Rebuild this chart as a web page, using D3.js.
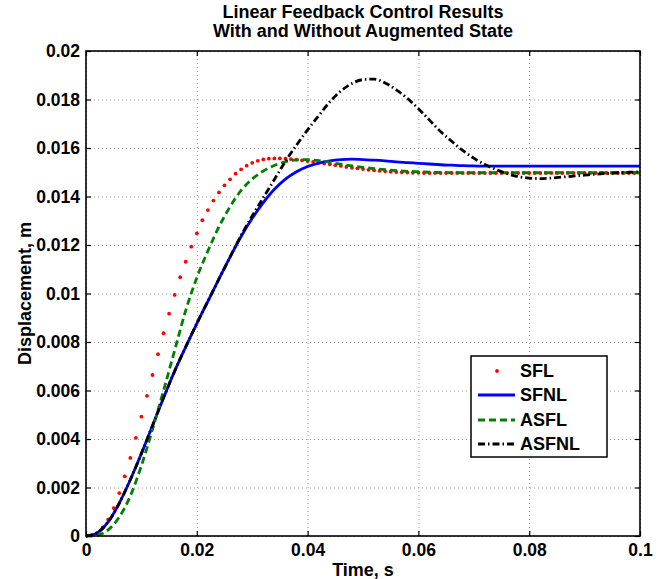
<!DOCTYPE html>
<html><head><meta charset="utf-8">
<script src="https://cdn.jsdelivr.net/npm/d3@7"></script>
<style>body{margin:0;background:#fff;} text{font-family:"Liberation Sans",Arial,Helvetica,sans-serif;font-weight:bold;fill:#000;}</style>
</head><body><svg id="c" width="670" height="579"></svg>
<script>
// ---- data ----
const xTicks = [0, 0.02, 0.04, 0.06, 0.08, 0.1];
const xTickLabels = ["0", "0.02", "0.04", "0.06", "0.08", "0.1"];
const yTicks = [0, 0.002, 0.004, 0.006, 0.008, 0.01, 0.012, 0.014, 0.016, 0.018, 0.02];
const yTickLabels = ["0", "0.002", "0.004", "0.006", "0.008", "0.01", "0.012", "0.014", "0.016", "0.018", "0.02"];
const seriesNames = ["SFL", "SFNL", "ASFL", "ASFNL"];

// SFL sampled every 1 ms (drawn as dots)
const timeSFL = [0,0.001,0.002,0.003,0.004,0.005,0.006,0.007,0.008,0.009,
 0.010,0.011,0.012,0.013,0.014,0.015,0.016,0.017,0.018,0.019,
 0.020,0.021,0.022,0.023,0.024,0.025,0.026,0.027,0.028,0.029,
 0.030,0.031,0.032,0.033,0.034,0.035,0.036,0.037,0.038,0.039,
 0.040,0.041,0.042,0.043,0.044,0.045,0.046,0.047,0.048,0.049,
 0.050,0.051,0.052,0.053,0.054,0.055,0.056,0.057,0.058,0.059,
 0.060,0.061,0.062,0.063,0.064,0.065,0.066,0.067,0.068,0.069,
 0.070,0.071,0.072,0.073,0.074,0.075,0.076,0.077,0.078,0.079,
 0.080,0.081,0.082,0.083,0.084,0.085,0.086,0.087,0.088,0.089,
 0.090,0.091,0.092,0.093,0.094,0.095,0.096,0.097,0.098,0.099,0.100];
const valSFL = [0,0.00002,0.00012,0.00035,0.00068,0.00115,0.00177,0.00246,0.00322,0.00405,
 0.00492,0.00578,0.00664,0.00750,0.00836,0.00917,0.00994,0.01067,0.01131,0.01193,
 0.01248,0.01302,0.01344,0.01383,0.01417,0.01446,0.01471,0.01494,0.01512,0.01527,
 0.01539,0.01547,0.01553,0.01556,0.01557,0.01557,0.01556,0.01554,0.01552,0.01549,
 0.01546,0.01543,0.01539,0.01536,0.01533,0.01529,0.01526,0.01522,0.01519,0.01516,
 0.01513,0.01510,0.01508,0.01506,0.01504,0.01502,0.01501,0.01500,0.01499,0.01498,
 0.01498,0.01497,0.01497,0.01497,0.01497,0.01497,0.01497,0.01497,0.01497,0.01497,
 0.01497,0.01497,0.01497,0.01497,0.01497,0.01497,0.01497,0.01497,0.01497,0.01497,
 0.01497,0.01497,0.01497,0.01497,0.01497,0.01497,0.01497,0.01497,0.01497,0.01497,
 0.01497,0.01497,0.01497,0.01497,0.01497,0.01497,0.01497,0.01497,0.01497,0.01497,0.01497];

// line series sampled every 2 ms
const timeLine = [0,0.002,0.004,0.006,0.008,0.010,0.012,0.014,0.016,0.018,
 0.020,0.022,0.024,0.026,0.028,0.030,0.032,0.034,0.036,0.038,
 0.040,0.042,0.044,0.046,0.048,0.050,0.052,0.054,0.056,0.058,
 0.060,0.062,0.064,0.066,0.068,0.070,0.072,0.074,0.076,0.078,
 0.080,0.082,0.084,0.086,0.088,0.090,0.092,0.094,0.096,0.098,0.100];
const valSFNL = [0,0.00013,0.00058,0.00135,0.00232,0.0034,0.00455,0.0057,0.0068,0.0078,
 0.00876,0.00968,0.0106,0.0115,0.01235,0.0131,0.01375,0.0143,0.01472,0.01502,
 0.01524,0.01538,0.01547,0.01552,0.01554,0.01552,0.0155,0.01547,0.01543,0.0154,
 0.01537,0.01534,0.01531,0.01529,0.01527,0.01526,0.01525,0.01525,0.01525,0.01525,
 0.01525,0.01525,0.01525,0.01525,0.01525,0.01525,0.01525,0.01525,0.01525,0.01525,0.01525];
const valASFL = [0,0.00003,0.00025,0.00078,0.00165,0.0029,0.0044,0.006,0.00765,0.0093,
 0.01065,0.01175,0.01275,0.01358,0.01425,0.01472,0.01505,0.01528,0.01543,0.01551,
 0.01552,0.01548,0.01541,0.01533,0.01526,0.0152,0.01515,0.01511,0.01507,0.01504,
 0.01502,0.015,0.01499,0.01498,0.01498,0.01498,0.01498,0.01498,0.01498,0.01498,
 0.01498,0.01498,0.01498,0.01498,0.01498,0.01498,0.01498,0.01498,0.01498,0.01498,0.01498];
const valASFNL = [0,0.00013,0.00058,0.00135,0.00232,0.0034,0.00455,0.0057,0.0068,0.0078,
 0.00876,0.00968,0.0106,0.0115,0.0124,0.0132,0.01395,0.0147,0.01545,0.01612,
 0.01675,0.01733,0.0179,0.01835,0.01866,0.01882,0.01884,0.01868,0.0184,0.01805,
 0.01762,0.01715,0.01668,0.01628,0.0159,0.01558,0.01532,0.01511,0.01494,0.01482,
 0.01476,0.01474,0.01476,0.0148,0.01484,0.01488,0.01492,0.01495,0.01498,0.015,0.01502];

// ---- chart ----
const svg = d3.select('#c');
const m = {l: 86, r: 640, t: 51, b: 536};
const x = d3.scaleLinear().domain([0, 0.1]).range([m.l, m.r]);
const y = d3.scaleLinear().domain([0, 0.02]).range([m.b, m.t]);

svg.append('rect').attr('width', 670).attr('height', 579).attr('fill', '#fff');
svg.append('rect').attr('x', m.l).attr('y', m.t).attr('width', m.r - m.l).attr('height', m.b - m.t).attr('fill', '#fff');

// grid
const gx = svg.append('g').attr('transform', `translate(0,${m.b})`)
  .call(d3.axisBottom(x).tickValues(xTicks).tickSize(-(m.b - m.t)).tickFormat(''));
const gy = svg.append('g').attr('transform', `translate(${m.l},0)`)
  .call(d3.axisLeft(y).tickValues(yTicks).tickSize(-(m.r - m.l)).tickFormat(''));
[gx, gy].forEach(g => {
  g.select('.domain').remove();
  g.selectAll('line').attr('stroke', '#9a9a9a').attr('stroke-width', 1).attr('stroke-dasharray', '1,3');
});

// clip
svg.append('clipPath').attr('id', 'clip').append('rect')
  .attr('x', m.l).attr('y', m.t - 2).attr('width', m.r - m.l).attr('height', m.b - m.t + 4);
const plot = svg.append('g').attr('clip-path', 'url(#clip)');

// SFL dots
plot.append('g').selectAll('circle').data(timeSFL.map((t, i) => [t, valSFL[i]])).join('circle')
  .attr('cx', d => x(d[0])).attr('cy', d => y(d[1])).attr('r', 1.9).attr('fill', '#ff0000');

const line = d3.line().x(d => x(d[0])).y(d => y(d[1])).curve(d3.curveMonotoneX);
const styles = [
  {vals: valSFNL, color: '#0000ff', dash: null},
  {vals: valASFL, color: '#008000', dash: '7,4'},
  {vals: valASFNL, color: '#000000', dash: '7,3,1.5,3'}
];
styles.forEach(s => {
  plot.append('path').datum(timeLine.map((t, i) => [t, s.vals[i]]))
    .attr('d', line).attr('fill', 'none').attr('stroke', s.color).attr('stroke-width', 2.8)
    .attr('stroke-dasharray', s.dash);
});

// axes with inward ticks
function styleAxis(g) {
  g.select('.domain').remove();
  g.selectAll('line').attr('stroke', '#000').attr('stroke-width', 1.2);
  g.selectAll('text').style('font-size', '17.5px').style('font-weight', 'bold')
    .style('font-family', '"Liberation Sans",Arial,sans-serif').attr('fill', '#000');
}
svg.append('g').attr('transform', `translate(0,${m.b})`)
  .call(d3.axisBottom(x).tickValues(xTicks).tickSize(-5).tickPadding(8).tickFormat((d, i) => xTickLabels[i])).call(styleAxis);
svg.append('g').attr('transform', `translate(0,${m.t})`)
  .call(d3.axisTop(x).tickValues(xTicks).tickSize(-5).tickFormat('')).call(styleAxis);
svg.append('g').attr('transform', `translate(${m.l},0)`)
  .call(d3.axisLeft(y).tickValues(yTicks).tickSize(-5).tickPadding(6).tickFormat((d, i) => yTickLabels[i])).call(styleAxis);
svg.append('g').attr('transform', `translate(${m.r},0)`)
  .call(d3.axisRight(y).tickValues(yTicks).tickSize(-5).tickFormat('')).call(styleAxis);

svg.append('rect').attr('x', m.l).attr('y', m.t).attr('width', m.r - m.l).attr('height', m.b - m.t)
  .attr('fill', 'none').attr('stroke', '#000').attr('stroke-width', 1.6);

// titles / labels
const cx = (m.l + m.r) / 2;
svg.append('text').attr('x', cx).attr('y', 18).attr('text-anchor', 'middle').style('font-size', '18px')
  .text('Linear Feedback Control Results');
svg.append('text').attr('x', cx).attr('y', 37).attr('text-anchor', 'middle').style('font-size', '18px')
  .text('With and Without Augmented State');
svg.append('text').attr('x', cx).attr('y', 576).attr('text-anchor', 'middle').style('font-size', '18px')
  .text('Time, s');
svg.append('text').attr('transform', `translate(31,${(m.t + m.b) / 2}) rotate(-90)`).attr('text-anchor', 'middle')
  .style('font-size', '18px').text('Displacement, m');

// legend
const lg = svg.append('g');
lg.append('rect').attr('x', 471).attr('y', 356).attr('width', 136).attr('height', 101)
  .attr('fill', '#fff').attr('stroke', '#000').attr('stroke-width', 1.5);
const rowY = [371, 395, 420, 444];
seriesNames.forEach((name, i) => {
  const yy = rowY[i];
  if (i === 0) {
    lg.append('circle').attr('cx', 497).attr('cy', yy).attr('r', 1.9).attr('fill', '#ff0000');
  } else {
    const s = styles[i - 1];
    lg.append('line').attr('x1', 478).attr('x2', 515).attr('y1', yy).attr('y2', yy)
      .attr('stroke', s.color).attr('stroke-width', 2.8).attr('stroke-dasharray', s.dash);
  }
  lg.append('text').attr('x', 520).attr('y', yy).attr('dy', '0.36em').style('font-size', '18px').text(name);
});
</script></body></html>
